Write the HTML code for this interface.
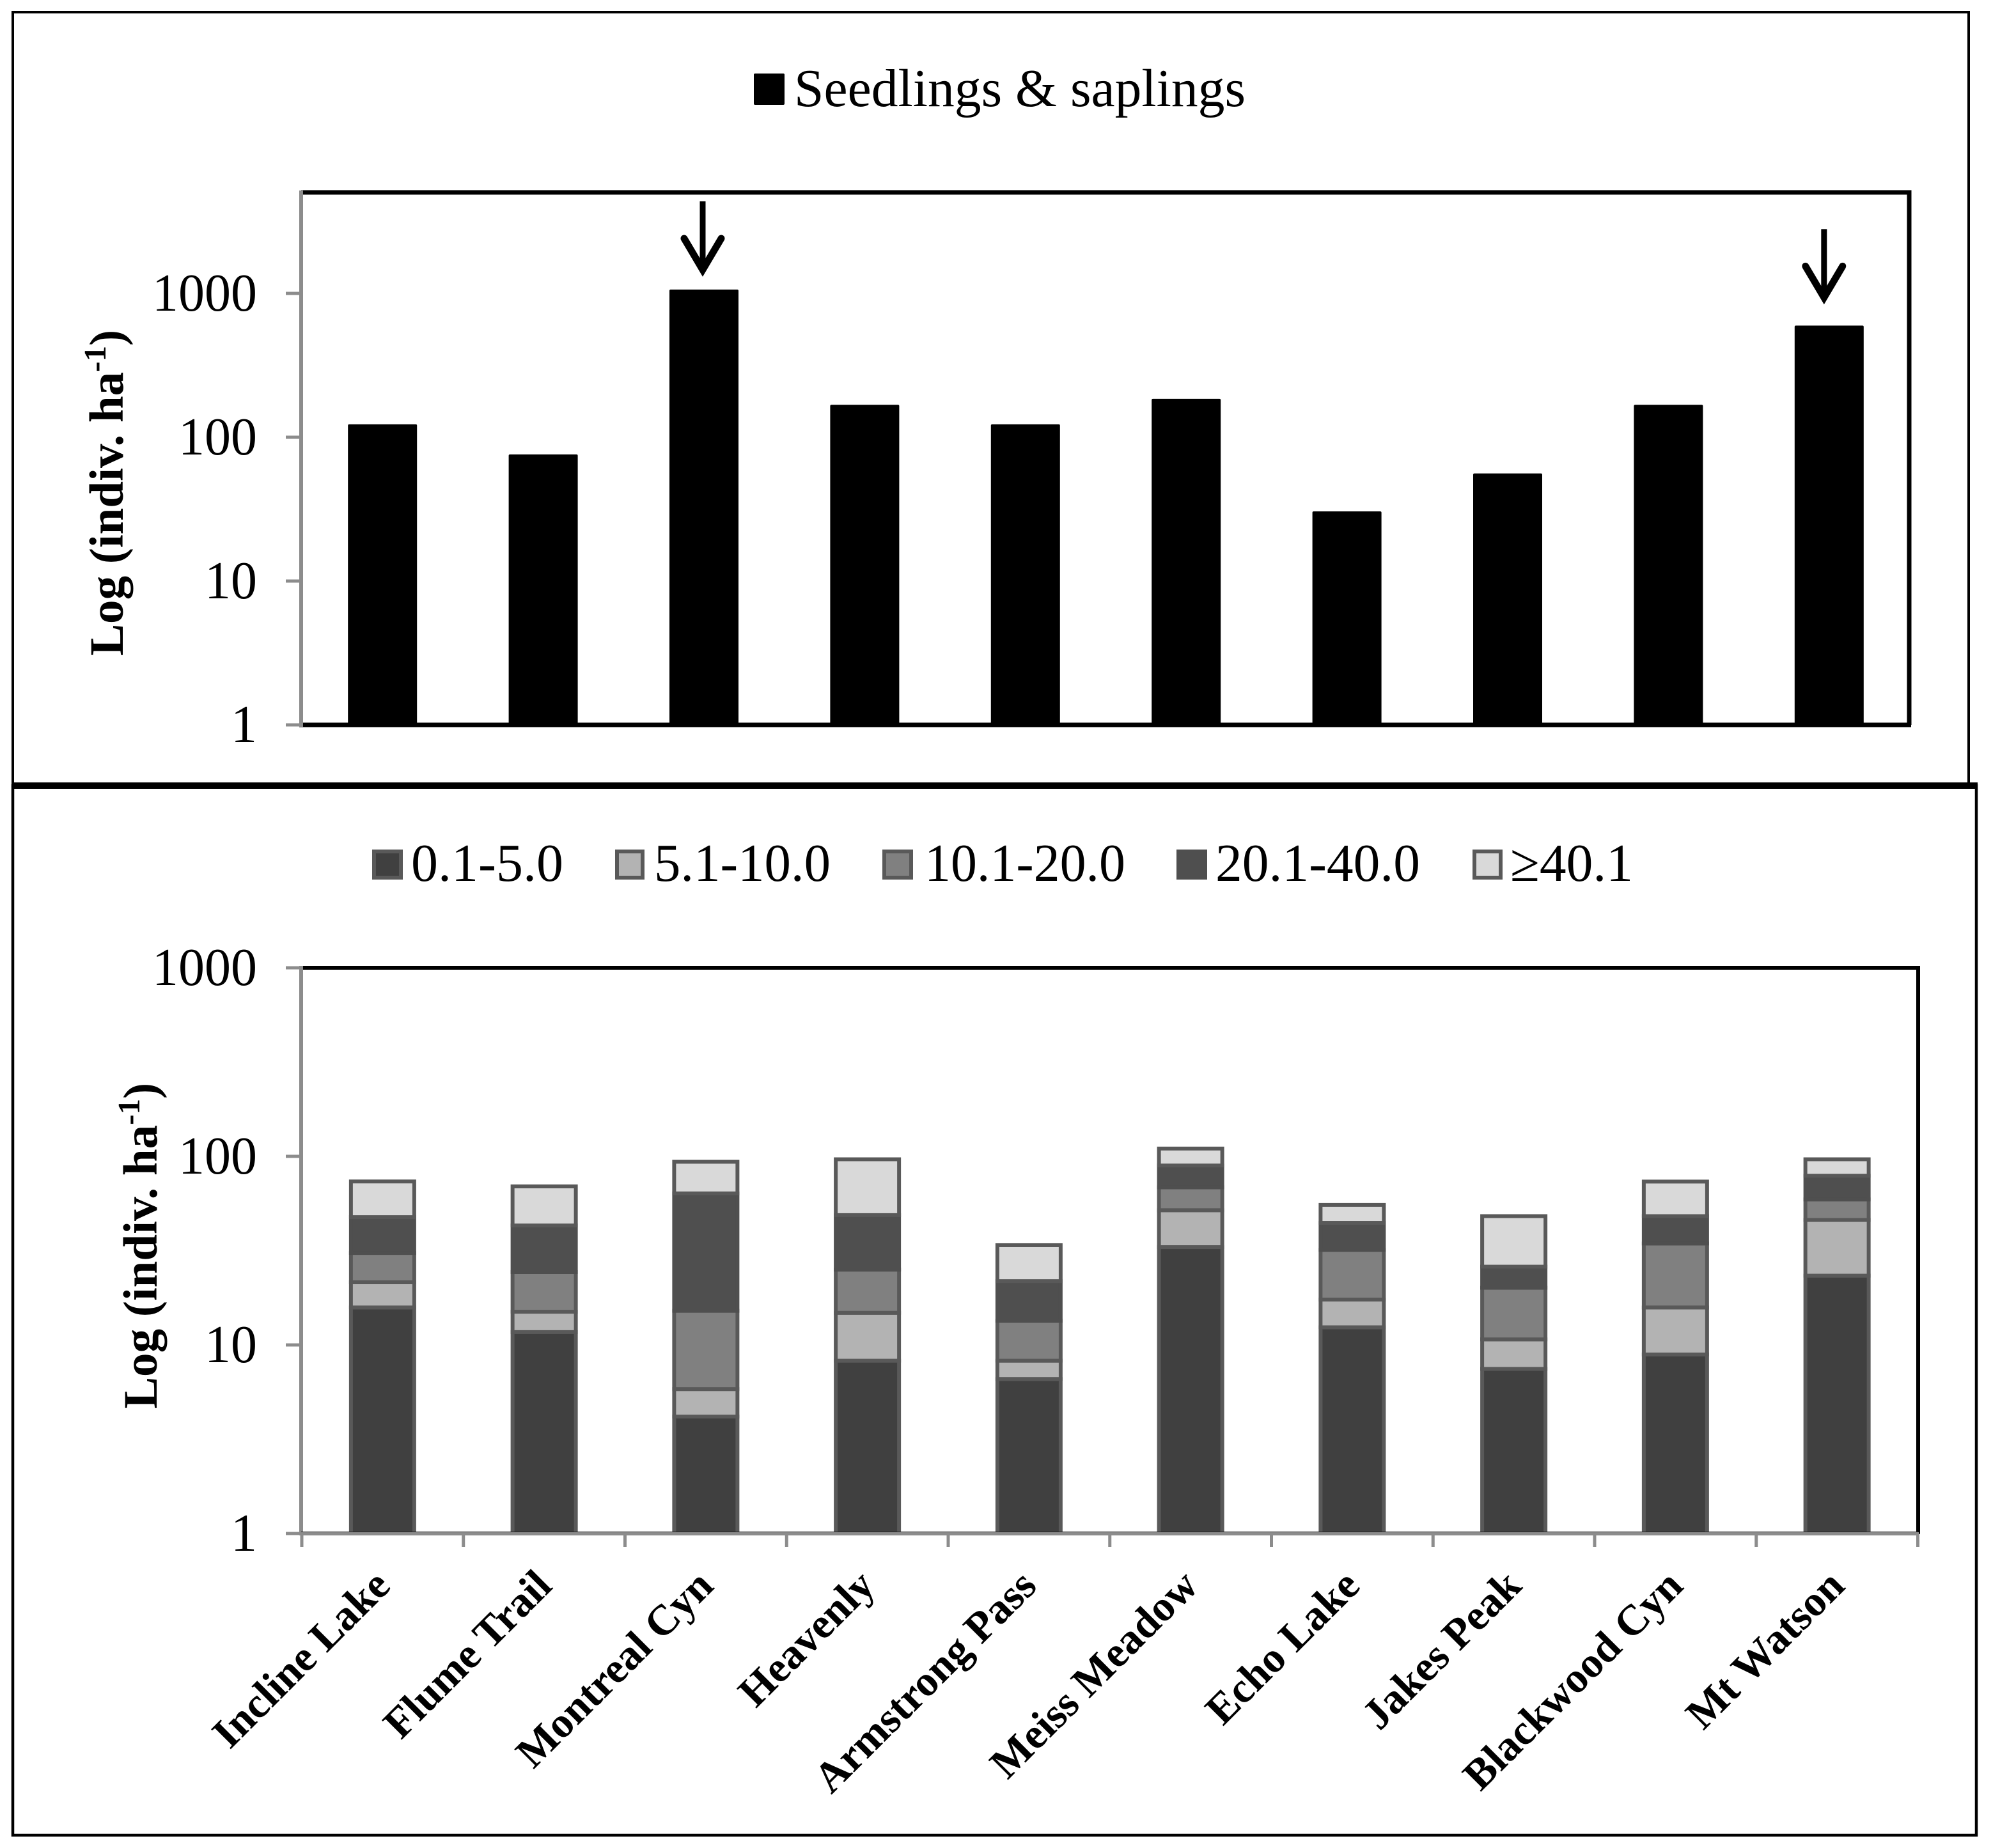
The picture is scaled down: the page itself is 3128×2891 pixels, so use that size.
<!DOCTYPE html>
<html lang="en">
<head>
<meta charset="utf-8">
<title>Seedlings and saplings by site</title>
<style>
html,body{margin:0;padding:0;background:#fff;}
svg{display:block;}
text{font-family:"Liberation Serif","Times New Roman",serif;fill:#000;}
</style>
</head>
<body>
<svg id="figure" xmlns="http://www.w3.org/2000/svg" width="3128" height="2891" viewBox="0 0 3128 2891">
  <rect x="0" y="0" width="3128" height="2891" fill="#fff"/>
  <rect x="20" y="19" width="3059" height="1210" fill="none" stroke="#000" stroke-width="4"/>
  <rect x="20" y="1229" width="3071" height="1642" fill="#fff" stroke="#000" stroke-width="4.5"/>
  <rect x="18" y="1224" width="3075" height="10" fill="#000"/>

  <g>
    <rect x="1179" y="115" width="48" height="49" rx="2" fill="#000"/>
    <text x="1242" y="166" font-size="84" textLength="706" lengthAdjust="spacingAndGlyphs">Seedlings &amp; saplings</text>
  </g>

  <g>
    <rect x="585" y="1332" width="42" height="41" fill="#404040" stroke="#595959" stroke-width="6"/>
    <text x="643" y="1378" font-size="84" textLength="238" lengthAdjust="spacingAndGlyphs">0.1-5.0</text>
    <rect x="965" y="1332" width="40" height="41" fill="#b3b3b3" stroke="#595959" stroke-width="6"/>
    <text x="1023" y="1378" font-size="84" textLength="276" lengthAdjust="spacingAndGlyphs">5.1-10.0</text>
    <rect x="1383" y="1332" width="42" height="41" fill="#808080" stroke="#595959" stroke-width="6"/>
    <text x="1446" y="1378" font-size="84" textLength="314" lengthAdjust="spacingAndGlyphs">10.1-20.0</text>
    <rect x="1843" y="1332" width="42" height="41" fill="#4f4f4f" stroke="#4f4f4f" stroke-width="6"/>
    <text x="1901" y="1378" font-size="84" textLength="320" lengthAdjust="spacingAndGlyphs">20.1-40.0</text>
    <rect x="2306" y="1332" width="41" height="41" fill="#d9d9d9" stroke="#595959" stroke-width="6"/>
    <text x="2362" y="1378" font-size="84" textLength="192" lengthAdjust="spacingAndGlyphs">≥40.1</text>
  </g>

  <text transform="translate(192 1026) rotate(-90)" font-size="75" font-weight="bold" textLength="510" lengthAdjust="spacingAndGlyphs">Log (indiv. ha<tspan font-size="49" dy="-27">-1</tspan><tspan dy="27">)</tspan></text>
  <text transform="translate(245 2204) rotate(-90)" font-size="75" font-weight="bold" textLength="510" lengthAdjust="spacingAndGlyphs">Log (indiv. ha<tspan font-size="49" dy="-27">-1</tspan><tspan dy="27">)</tspan></text>

  <g id="top-chart"></g>
  <g id="bottom-chart"></g>
</svg>

<script>
// Categories shared by both charts
const sites = ['Incline Lake','Flume Trail','Montreal Cyn','Heavenly','Armstrong Pass','Meiss Meadow','Echo Lake','Jakes Peak','Blackwood Cyn','Mt Watson'];
// Top chart: seedlings and saplings (indiv. per ha)
const seedlings = [123,76,1063,168,123,185,30.5,56,168,597];
// Sites flagged with an arrow in the top chart
const arrowSites = ['Montreal Cyn','Mt Watson'];
// Log tick labels
const topTicks = [1,10,100,1000];
const bottomTicks = [1,10,100,1000];
// Bottom chart: stacked diameter classes (indiv. per ha)
const class0to5   = [15.8,11.7,4.17,8.25,6.6,33,12.4,7.46,8.9,23.3];
const class5to10  = [5.7,3.3,1.66,6.55,1.65,18.8,5,3.24,6.9,22.7];
const class10to20 = [9.25,9.35,9.34,10.28,5.17,16.7,14.5,9.4,18.7,13.1];
const class20to40 = [16.85,18.65,48.43,23.72,8.38,20.9,12.5,5.9,13.7,19.8];
const class40plus = [26,26.3,30,47.7,12,20.6,10.9,22.2,25.3,17.6];
const classNames  = ['0-5','5-10','10-20','20-40','40-plus'];

const NS = 'http://www.w3.org/2000/svg';
const GRAY = '#8c8c8c';
function make(parent, tag, attrs, txt) {
  const el = document.createElementNS(NS, tag);
  for (const k in attrs) el.setAttribute(k, attrs[k]);
  if (txt !== undefined) el.textContent = txt;
  parent.appendChild(el);
  return el;
}

// ---------- axis functions ----------
const yTop = v => 1134 - 225 * Math.log10(v);
const xTop = i => 1101 - 2 * 251.4 + i * 251.4;
const yBot = v => 2399 - 295 * Math.log10(v);
const xBot = i => 472 + 252.75 * (i + 0.5);
const xBotEdge = i => 472 + 252.75 * i;

// ---------- top chart ----------
const top_ = document.getElementById('top-chart');
seedlings.forEach((v, i) => {
  const bar = make(top_, 'rect', {x: xTop(i) - 54, y: yTop(v), width: 108, height: yTop(1) - yTop(v), rx: 2, fill: '#000'});
  
  
});
const topBorder = make(top_, 'path', {d: 'M471 301H2986V1134', fill: 'none', stroke: '#000', 'stroke-width': 7});


const topBase = make(top_, 'line', {x1: 468, x2: 2989, y1: 1134, y2: 1134, stroke: '#000', 'stroke-width': 7});


const topYAxis = make(top_, 'line', {x1: 471, x2: 471, y1: 298, y2: 1137, stroke: GRAY, 'stroke-width': 6});


topTicks.forEach(t => {
  const tick = make(top_, 'line', {x1: 447, x2: 471, y1: yTop(t), y2: yTop(t), stroke: GRAY, 'stroke-width': 5});
  
  
  const s = String(t);
  const lab = make(top_, 'text', {x: 402, y: yTop(t) + 27, 'font-size': 84, 'text-anchor': 'end', textLength: s.length * 41, lengthAdjust: 'spacingAndGlyphs'}, s);
  
  
});
arrowSites.forEach(name => {
  const i = sites.indexOf(name);
  const isLast = i === sites.length - 1;
  const cx = xTop(i) + (isLast ? -8 : -2);
  const tip = yTop(seedlings[i]) - (isLast ? 33 : 20);
  const g = make(top_, 'g', {transform: 'translate(' + cx + ' ' + tip + ')'});
  
  
  make(g, 'line', {x1: 0, x2: 0, y1: -118, y2: -10, stroke: '#000', 'stroke-width': 9});
  make(g, 'path', {d: 'M-29 -60L0 -11L29 -60', fill: 'none', stroke: '#000', 'stroke-width': 11, 'stroke-linecap': 'round', 'stroke-linejoin': 'miter', 'stroke-miterlimit': 10});
});

// ---------- bottom chart ----------
const bot = document.getElementById('bottom-chart');
const classSeries = [class0to5, class5to10, class10to20, class20to40, class40plus];
const classFills = ['#404040', '#b3b3b3', '#808080', '#4f4f4f', '#d9d9d9'];
const botBorder = make(bot, 'path', {d: 'M471 1514H3000V2400', fill: 'none', stroke: '#000', 'stroke-width': 6});


sites.forEach((name, i) => {
  let base = 1;
  classSeries.forEach((series, c) => {
    const high = c === 0 ? series[i] : base + series[i];
    const seg = make(bot, 'rect', {x: xBot(i) - 49.5, y: yBot(high), width: 99, height: yBot(c === 0 ? 1 : base) - yBot(high), fill: classFills[c], stroke: c === 3 ? '#4f4f4f' : '#595959', 'stroke-width': 6});
    
    
    base = high;
  });
  const lab = make(bot, 'text', {transform: 'translate(' + (xBot(i) + 15) + ' 2484) rotate(-45)', 'font-size': 67, 'font-weight': 'bold', 'text-anchor': 'end'}, name);
  
  
});
const botYAxis = make(bot, 'line', {x1: 471, x2: 471, y1: 1511, y2: 2402, stroke: GRAY, 'stroke-width': 6});


const botThin = make(bot, 'line', {x1: 471, x2: 3000, y1: 2396.5, y2: 2396.5, stroke: '#222', 'stroke-width': 1});


const botXAxis = make(bot, 'line', {x1: 469, x2: 3001, y1: 2399.5, y2: 2399.5, stroke: GRAY, 'stroke-width': 5});


for (let i = 0; i <= sites.length; i++) {
  const tick = make(bot, 'line', {x1: xBotEdge(i), x2: xBotEdge(i), y1: 2399, y2: 2420, stroke: GRAY, 'stroke-width': 5});
  
  
}
bottomTicks.forEach(t => {
  const tick = make(bot, 'line', {x1: 447, x2: 471, y1: yBot(t), y2: yBot(t), stroke: GRAY, 'stroke-width': 5});
  
  
  const s = String(t);
  const lab = make(bot, 'text', {x: 402, y: yBot(t) + 27, 'font-size': 84, 'text-anchor': 'end', textLength: s.length * 41, lengthAdjust: 'spacingAndGlyphs'}, s);
  
  
});
</script>
</body>
</html>
